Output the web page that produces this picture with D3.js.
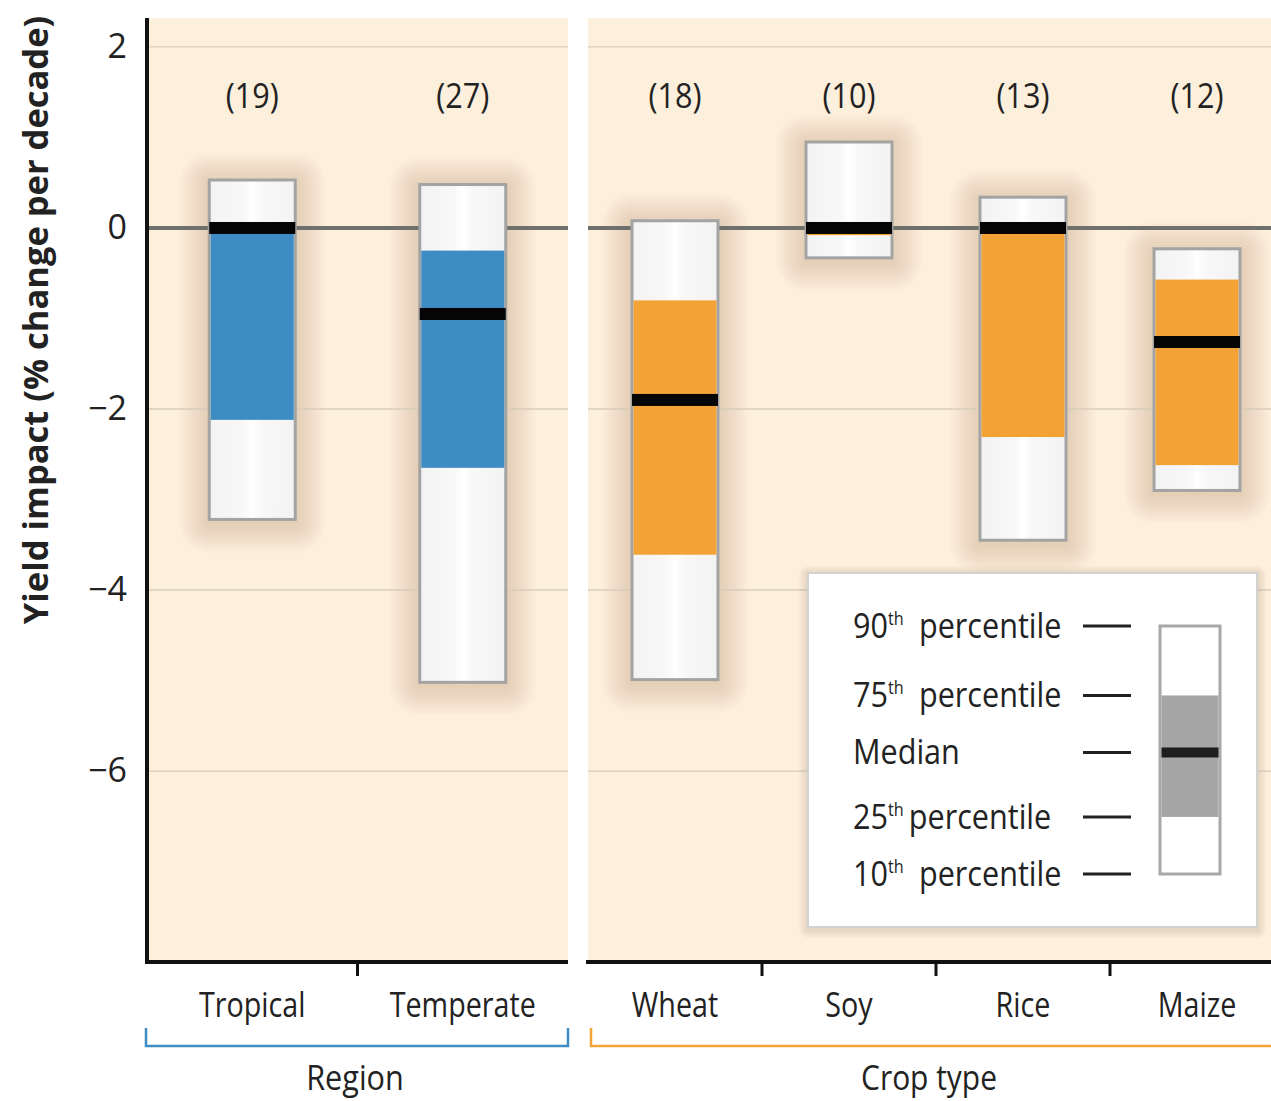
<!DOCTYPE html>
<html>
<head>
<meta charset="utf-8">
<script src="https://cdn.jsdelivr.net/npm/d3@7"></script>
<style>
  body { margin: 0; background: #fff; }
  svg { display: block; }
  text { font-family: "Open Sans", sans-serif; fill: #222; }
</style>
</head>
<body>
<svg id="chart" width="1271" height="1101"></svg>
<script>
// ---- data ----
var regionCats = ["Tropical", "Temperate"];
var cropCats   = ["Wheat", "Soy", "Rice", "Maize"];
var counts = [19, 27, 18, 10, 13, 12];
var p90    = [0.53, 0.48, 0.08, 0.95, 0.34, -0.23];
var p75    = [0.00, -0.25, -0.80, 0.00, 0.00, -0.57];
var median = [0.00, -0.95, -1.90, 0.00, 0.00, -1.26];
var p25    = [-2.12, -2.65, -3.61, -0.08, -2.31, -2.62];
var p10    = [-3.22, -5.02, -4.99, -0.33, -3.45, -2.90];
var yTicks = [2, 0, -2, -4, -6];
var legendNums = ["90", "75", null, "25", "10"];
var legendText = ["percentile", "percentile", "Median", "percentile", "percentile"];
var legendVals = [1.0, 0.72, 0.49, 0.23, 0.0];   // relative position in the legend box

var blue = "#3d8cc4", orange = "#f3a236";

var svg = d3.select("#chart");
var W = 1271, H = 1101;

var y = d3.scaleLinear().domain([-8.11, 2.32]).range([962, 18]);
var xLeft  = d3.scaleBand().domain(regionCats).range([147, 568]);
var xRight = d3.scaleBand().domain(cropCats).range([588, 1284]);
var boxW = 86;

// narrow text (the original uses a condensed face)
function label(parent, x, yy, str, size, k, anchor, color) {
  var g = parent.append("g").attr("transform", "translate(" + x + "," + yy + ") scale(" + k + ",1)");
  return g.append("text")
    .attr("text-anchor", anchor || "middle")
    .style("font-size", size + "px")
    .attr("fill", color || "#222")
    .text(str);
}

// soft halo made of stacked translucent rects
function halo(parent, x, yy, w, h, steps, step, color, op, dy) {
  for (var s = steps; s >= 1; s--) {
    var e = s * step;
    parent.append("rect")
      .attr("x", x - e).attr("y", yy - e + dy)
      .attr("width", w + 2 * e).attr("height", h + 2 * e)
      .attr("rx", e).attr("ry", e)
      .attr("fill", color).attr("fill-opacity", op);
  }
}

var defs = svg.append("defs");
var g1 = defs.append("linearGradient").attr("id", "whiteGrad");
g1.append("stop").attr("offset", "0%").attr("stop-color", "#f3f3f3");
g1.append("stop").attr("offset", "40%").attr("stop-color", "#f8f8f8");
g1.append("stop").attr("offset", "50%").attr("stop-color", "#ffffff");
g1.append("stop").attr("offset", "60%").attr("stop-color", "#f8f8f8");
g1.append("stop").attr("offset", "100%").attr("stop-color", "#f3f3f3");

var panels = [
  { cats: regionCats, x: xLeft, color: blue, label: "Region", offset: 0, k: 0.9 },
  { cats: cropCats, x: xRight, color: orange, label: "Crop type", offset: regionCats.length, k: 0.88 }
];

panels.forEach(function(p) {
  var r = p.x.range();
  svg.append("rect")
    .attr("x", r[0]).attr("y", y.range()[1])
    .attr("width", r[1] - r[0]).attr("height", y.range()[0] - y.range()[1])
    .attr("fill", "#fcefdc");
});

// halos go under the grid, like in the original
var haloLayer = svg.append("g");

panels.forEach(function(p) {
  var r = p.x.range();
  yTicks.filter(function(t) { return t !== 0; }).forEach(function(t) {
    svg.append("line")
      .attr("x1", r[0]).attr("x2", r[1])
      .attr("y1", y(t)).attr("y2", y(t))
      .attr("stroke", "#d9cdbb").attr("stroke-width", 1.3);
  });
  svg.append("line")
    .attr("x1", r[0]).attr("x2", r[1])
    .attr("y1", y(0)).attr("y2", y(0))
    .attr("stroke", "#6f6f6b").attr("stroke-width", 4);
});

// boxes
panels.forEach(function(p) {
  p.cats.forEach(function(c, j) {
    var i = p.offset + j;
    var cx = p.x(c) + p.x.bandwidth() / 2;
    var x0 = cx - boxW / 2;
    halo(haloLayer, x0, y(p90[i]), boxW, y(p10[i]) - y(p90[i]), 12, 2.5, "#b5946a", 0.028, 3);
    var g = svg.append("g");
    g.append("rect")
      .attr("x", x0).attr("y", y(p90[i]))
      .attr("width", boxW).attr("height", y(p10[i]) - y(p90[i]))
      .attr("fill", "url(#whiteGrad)")
      .attr("stroke", "#a3a3a3").attr("stroke-width", 3);
    g.append("rect")
      .attr("x", x0 + 1.5).attr("y", y(p75[i]))
      .attr("width", boxW - 3).attr("height", y(p25[i]) - y(p75[i]))
      .attr("fill", p.color);
    g.append("rect")
      .attr("x", x0).attr("y", y(median[i]) - 6)
      .attr("width", boxW).attr("height", 12)
      .attr("fill", "#050505");
    label(svg, cx, 108, "(" + counts[i] + ")", 34, 0.9, "middle", "#222");
  });
});

// y axis
svg.append("g")
  .attr("transform", "translate(147,0)")
  .call(d3.axisLeft(y).tickValues(yTicks).tickSize(0).tickPadding(20))
  .call(function(g) { g.select(".domain").remove(); })
  .call(function(g) {
    g.selectAll("text").style("font-size", "34px")
      .style("font-family", "'Open Sans', sans-serif")
      .attr("fill", "#222");
  });
svg.append("line")
  .attr("x1", 147).attr("x2", 147)
  .attr("y1", y.range()[1]).attr("y2", y.range()[0] + 2)
  .attr("stroke", "#111").attr("stroke-width", 4);

svg.append("text")
  .attr("transform", "translate(48,320) rotate(-90)")
  .attr("text-anchor", "middle")
  .style("font-weight", "bold")
  .style("font-size", "34.5px")
  .attr("fill", "#1a1a1a")
  .text("Yield impact (% change per decade)");

// bottom axes + brackets
panels.forEach(function(p) {
  var r = p.x.range();
  svg.append("g")
    .attr("transform", "translate(0," + y.range()[0] + ")")
    .call(d3.axisBottom(p.x).tickSize(0).tickPadding(30))
    .call(function(g) { g.select(".domain").remove(); })
    .call(function(g) {
      g.selectAll("text").style("font-size", "35px")
        .attr("transform", "scale(0.82,1)")
        .attr("fill", "#111");
    });
  svg.append("line")
    .attr("x1", r[0] - 2).attr("x2", r[1])
    .attr("y1", y.range()[0]).attr("y2", y.range()[0])
    .attr("stroke", "#111").attr("stroke-width", 4);
  p.cats.slice(1).forEach(function(c) {
    var bx = p.x(c);
    svg.append("line")
      .attr("x1", bx).attr("x2", bx)
      .attr("y1", y.range()[0]).attr("y2", y.range()[0] + 14)
      .attr("stroke", "#111").attr("stroke-width", 3);
  });
  var bx0 = r[0] + (p.offset ? 3 : -1), bx1 = r[1];
  svg.append("path")
    .attr("d", "M" + bx0 + ",1028V1046H" + bx1 + "V1028")
    .attr("fill", "none").attr("stroke", p.color).attr("stroke-width", 2.5);
  var mid = (bx0 + Math.min(bx1, W)) / 2;
  label(svg, mid - 2, 1090, p.label, 34, p.k, "middle", "#333");
});

// legend
var lg = svg.append("g");
halo(lg, 808, 573, 449, 354, 6, 1.5, "#a08a6c", 0.045, 2);
lg.append("rect")
  .attr("x", 808).attr("y", 573).attr("width", 449).attr("height", 354)
  .attr("fill", "#fff").attr("stroke", "#d2d2d2").attr("stroke-width", 2);
var ly = d3.scaleLinear().domain([0, 1]).range([874, 626]);
legendVals.forEach(function(v, k) {
  var t = label(lg, 853, ly(v) + 12, "", 34, 0.9, "start", "#333");
  if (legendNums[k]) {
    t.append("tspan").text(legendNums[k]);
    t.append("tspan").attr("dy", -13).style("font-size", "18px").text("th");
    t.append("tspan").attr("dy", 13).text(k === 3 ? "\u2009" + legendText[k] : "\u2002" + legendText[k]);
  } else {
    t.text(legendText[k]);
  }
  lg.append("line")
    .attr("x1", 1083).attr("x2", 1131)
    .attr("y1", ly(v)).attr("y2", ly(v))
    .attr("stroke", "#222").attr("stroke-width", 3);
});
lg.append("rect")
  .attr("x", 1160).attr("y", ly(1)).attr("width", 60).attr("height", ly(0) - ly(1))
  .attr("fill", "#fff").attr("stroke", "#a8a8a8").attr("stroke-width", 3);
lg.append("rect")
  .attr("x", 1161.5).attr("y", ly(0.72)).attr("width", 57).attr("height", ly(0.23) - ly(0.72))
  .attr("fill", "#a6a6a6");
lg.append("rect")
  .attr("x", 1161.5).attr("y", ly(0.49) - 5).attr("width", 57).attr("height", 10)
  .attr("fill", "#1e1e1e");
</script>
</body>
</html>
